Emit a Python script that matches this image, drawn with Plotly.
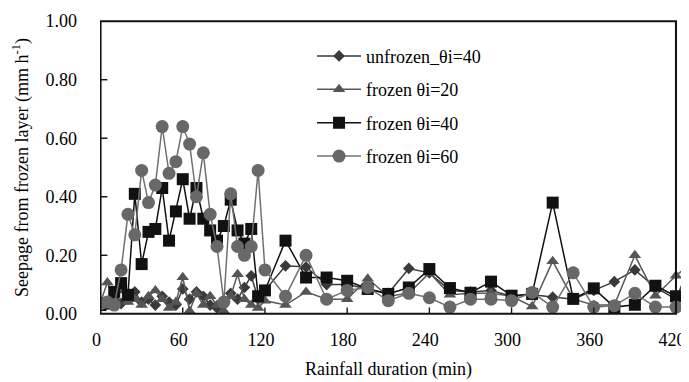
import plotly.graph_objects as go

# Rainfall duration (min)
time = [0, 5, 10, 15, 20, 25, 30, 35, 40, 45, 50, 55, 60, 65, 70, 75, 80, 85, 90, 95,
        100, 105, 110, 115, 120, 135, 150, 165, 180, 195, 210, 225, 240, 255, 270,
        285, 300, 315, 330, 345, 360, 375, 390, 405, 420]
time_ext = time + [435]

unfrozen_40 = [0.03, 0.04, 0.05, 0.035, 0.05, 0.075, 0.04, 0.05, 0.03, 0.06, 0.04, 0.03,
               0.085, 0.05, 0.075, 0.06, 0.03, 0.02, 0.04, 0.07, 0.05, 0.09, 0.13, 0.05,
               0.08, 0.164, 0.16, 0.10, 0.10, 0.085, 0.07, 0.155, 0.14, 0.08, 0.075, 0.08,
               0.06, 0.065, 0.057, 0.05, 0.08, 0.11, 0.15, 0.09, 0.05, 0.22]

frozen_20 = [0.04, 0.107, 0.05, 0.08, 0.04, 0.05, 0.03, 0.06, 0.08, 0.05, 0.02, 0.04,
             0.125, 0.01, 0.07, 0.03, 0.06, 0.03, 0.01, 0.06, 0.135, 0.05, 0.03, 0.02,
             0.045, 0.03, 0.075, 0.05, 0.05, 0.12, 0.06, 0.07, 0.14, 0.065, 0.07, 0.07,
             0.06, 0.025, 0.18, 0.05, 0.03, 0.03, 0.20, 0.062, 0.13, 0.19]

frozen_40 = [0.03, 0.035, 0.075, 0.105, 0.065, 0.41, 0.17, 0.28, 0.29, 0.43, 0.25, 0.35,
             0.46, 0.325, 0.43, 0.325, 0.285, 0.25, 0.30, 0.39, 0.285, 0.24, 0.29, 0.06,
             0.08, 0.25, 0.124, 0.124, 0.113, 0.085, 0.068, 0.09, 0.153, 0.088, 0.072,
             0.11, 0.062, 0.068, 0.38, 0.051, 0.087, 0.023, 0.031, 0.096, 0.06]

frozen_60 = [0.035, 0.04, 0.03, 0.15, 0.34, 0.27, 0.49, 0.38, 0.44, 0.64, 0.48, 0.52,
             0.64, 0.58, 0.40, 0.55, 0.34, 0.23, 0.04, 0.41, 0.23, 0.20, 0.23, 0.49,
             0.15, 0.06, 0.20, 0.05, 0.08, 0.09, 0.045, 0.07, 0.055, 0.023, 0.05, 0.05,
             0.045, 0.073, 0.023, 0.14, 0.023, 0.028, 0.07, 0.023, 0.023]

x_ticks = [0, 60, 120, 180, 240, 300, 360, 420]
y_ticks = [0.0, 0.2, 0.4, 0.6, 0.8, 1.0]

X_MAX = x_ticks[-1]
Y_MAX = y_ticks[-1]

FONT = "Liberation Serif"
AXIS_COLOR = "#141414"

fig = go.Figure()

fig.add_trace(go.Scatter(x=time_ext, y=unfrozen_40, name="unfrozen_θi=40", mode="lines+markers",
                         legendgroup="a",
                         line=dict(color="#3a3a3a", width=1.5),
                         marker=dict(symbol="diamond", size=9, color="#3a3a3a")))
fig.add_trace(go.Scatter(x=time_ext, y=frozen_20, name="frozen θi=20", mode="lines+markers",
                         legendgroup="b",
                         line=dict(color="#595959", width=1.5),
                         marker=dict(symbol="triangle-up", size=11, color="#555555")))
fig.add_trace(go.Scatter(x=time, y=frozen_40, name="frozen θi=40", mode="lines+markers",
                         legendgroup="c",
                         line=dict(color="#111111", width=1.5),
                         marker=dict(symbol="square", size=12, color="#111111")))
fig.add_trace(go.Scatter(x=time, y=frozen_60, name="frozen θi=60", mode="lines+markers",
                         legendgroup="d",
                         line=dict(color="#707070", width=1.5),
                         marker=dict(symbol="circle", size=13, color="#686868")))

# Plot-area frame and inward ticks as thin filled rectangles (axis-limit based)
DX = 0.75      # ~1 px in x units
DY = 0.0035    # ~1 px in y units
bars = [
    (-DX, DX, 0, Y_MAX),            # left edge
    (X_MAX - DX, X_MAX + DX, 0, Y_MAX),  # right edge
    (-DX, X_MAX + DX, -DY, DY),     # bottom edge
    (-DX, X_MAX + DX, Y_MAX - DY, Y_MAX + DY),  # top edge
]
for v in x_ticks[1:-1]:
    bars.append((v - 0.5, v + 0.5, 0, 0.022))
for v in y_ticks[1:-1]:
    bars.append((0, 5, v - 0.0025, v + 0.0025))
for x0, x1, y0, y1 in bars:
    fig.add_shape(type="rect", xref="x", yref="y", x0=x0, x1=x1, y0=y0, y1=y1,
                  fillcolor=AXIS_COLOR, line=dict(width=0), layer="above")

fig.add_annotation(text="Rainfall duration (min)", xref="x", yref="paper", x=X_MAX / 2, y=0,
                   yanchor="top", yshift=-42, showarrow=False,
                   font=dict(family=FONT, size=18, color="black"))

# the page body adds an 8px margin: the figure is sized to fill the rest of the window
fig.update_layout(
    width=681, height=374,
    margin=dict(l=92, r=0, t=12, b=67, autoexpand=False),
    paper_bgcolor="white", plot_bgcolor="white",
    font=dict(family=FONT, size=18, color="black"),
    showlegend=True,
    legend=dict(x=0.36, y=0.94, xanchor="left", yanchor="top",
                bgcolor="rgba(0,0,0,0)", font=dict(family=FONT, size=18),
                tracegroupgap=7, itemwidth=44),
    xaxis=dict(range=[-0.4, 429.5], tickvals=x_ticks, ticktext=[str(v) for v in x_ticks],
               ticks="", showgrid=False, zeroline=False, showline=False, automargin=False,
               ticklabelstandoff=12, ticklabeloverflow="allow", ticklabelshift=-4,
               tickfont=dict(family=FONT, size=18)),
    yaxis=dict(range=[-0.004, 1.004], tickvals=y_ticks, ticktext=[f"{v:.2f}" for v in y_ticks],
               ticks="", showgrid=False, zeroline=False, showline=False, automargin=False,
               ticklabelstandoff=22,
               title=dict(text="Seepage from frozen layer (mm h<sup>-1</sup>)",
                          font=dict(family=FONT, size=18), standoff=12),
               tickfont=dict(family=FONT, size=18)),
)

fig.write_html("out.html")
